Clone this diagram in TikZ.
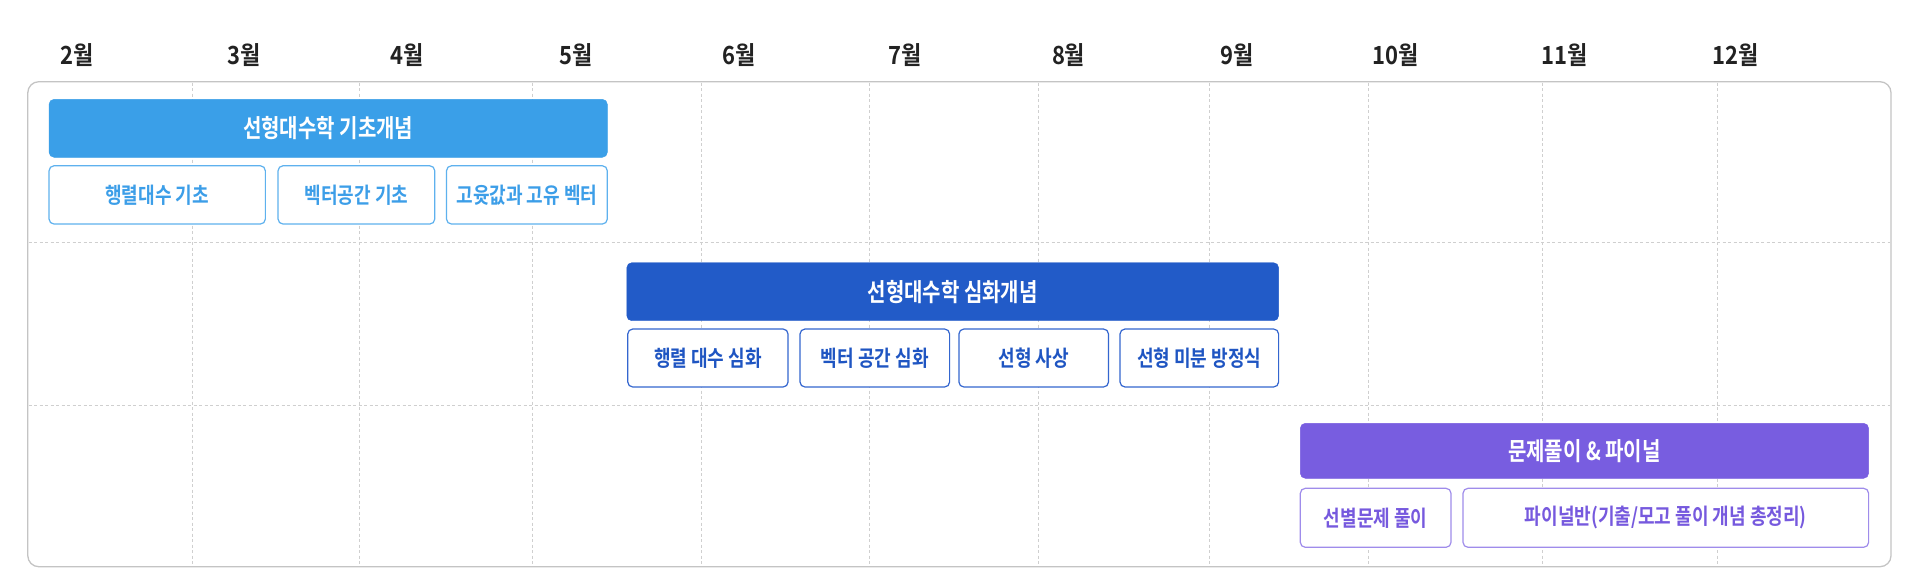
\documentclass[tikz,border=0pt]{standalone}
\usepackage{fontspec}
\setmainfont{Noto Sans CJK KR}
\newfontfamily\barfont{Noto Sans CJK KR Bold}[FakeStretch=0.80]
\newfontfamily\subfont{Noto Sans CJK KR Bold}[FakeStretch=0.82]
\newfontfamily\monthfont{Noto Sans CJK KR Bold}[FakeStretch=0.88]
\definecolor{monthc}{HTML}{222222}
\definecolor{gridc}{HTML}{CFCFCF}
\definecolor{framec}{HTML}{C4C4C4}
\definecolor{cA}{HTML}{3A9FE8}
\definecolor{cAb}{HTML}{5EB1EE}
\definecolor{cAt}{HTML}{3C9EE8}
\definecolor{cB}{HTML}{225BC8}
\definecolor{cBb}{HTML}{3466CF}
\definecolor{cBt}{HTML}{1F55C2}
\definecolor{cC}{HTML}{785DE0}
\definecolor{cCb}{HTML}{9F8CEB}
\definecolor{cCt}{HTML}{7659DE}
\begin{document}
\begin{tikzpicture}[x=1pt,y=-1pt,
  monthlbl/.style={font=\monthfont\fontsize{25}{28}\selectfont, text=monthc, inner sep=0pt},
  gridline/.style={draw=gridc, line width=1pt, dash pattern=on 3pt off 2.5pt},
  bar/.style={rounded corners=5pt, inner sep=0pt, text=white, font=\barfont\fontsize{25}{28}\selectfont},
  barA/.style={bar, fill=cA, draw=cA},
  barB/.style={bar, fill=cB, draw=cB},
  barC/.style={bar, fill=cC, draw=cC},
  sub/.style={rounded corners=5pt, inner sep=0pt, fill=white, line width=1.2pt, font=\subfont\fontsize{22}{26}\selectfont},
  subA/.style={sub, draw=cAb, text=cAt},
  subB/.style={sub, draw=cBb, text=cBt},
  subC/.style={sub, draw=cCb, text=cCt}]
\useasboundingbox (0,0) rectangle (1919,587);
% frame
\draw[draw=framec, line width=1.3pt, fill=white, rounded corners=11pt] (27.8,81.7) rectangle (1891,566.7);
% vertical grid
\foreach \gx in {192.2,359.6,532.2,701.2,869.4,1038.4,1209.4,1368.4,1542,1717.2}
  \draw[gridline] (\gx,82.5) -- (\gx,566);
% horizontal grid
\foreach \gy in {242.6,405}
  \draw[gridline] (28.5,\gy) -- (1890.3,\gy);
% months
\node[monthlbl] (m2) at (77.6,55) {2월};
\node[monthlbl] (m3) at (243.7,55) {3월};
\node[monthlbl] (m4) at (407,55) {4월};
\node[monthlbl] (m5) at (576,55) {5월};
\node[monthlbl] (m6) at (739,55) {6월};
\node[monthlbl] (m7) at (905,55) {7월};
\node[monthlbl] (m8) at (1068.6,55) {8월};
\node[monthlbl] (m9) at (1236.7,55) {9월};
\node[monthlbl] (m10) at (1396,55) {10월};
\node[monthlbl] (m11) at (1565,55) {11월};
\node[monthlbl] (m12) at (1736,55) {12월};
% row 1
\node[barA, minimum width=558.3pt, minimum height=58pt] (bA) at (328.2,128.3) {선형대수학 기초개념};
\node[subA, minimum width=216.3pt, minimum height=58.3pt] (sA1) at (157.2,194.9) {행렬대수 기초};
\node[subA, minimum width=156.7pt, minimum height=58.3pt] (sA2) at (356.4,194.9) {벡터공간 기초};
\node[subA, minimum width=160.8pt, minimum height=58.3pt] (sA3) at (526.9,194.9) {고윳값과 고유 벡터};
% row 2
\node[barB, minimum width=651.8pt, minimum height=58pt] (bB) at (952.7,291.7) {선형대수학 심화개념};
\node[subB, minimum width=160.3pt, minimum height=58pt] (sB1) at (707.9,358) {행렬 대수 심화};
\node[subB, minimum width=149.6pt, minimum height=58pt] (sB2) at (874.8,358) {벡터 공간 심화};
\node[subB, minimum width=149.6pt, minimum height=58pt] (sB3) at (1033.7,358) {선형 사상};
\node[subB, minimum width=158.6pt, minimum height=58pt] (sB4) at (1199.3,358) {선형 미분 방정식};
% row 3
\node[barC, minimum width=568.3pt, minimum height=55pt] (bC) at (1584.45,450.8) {문제풀이 \& 파이널};
\node[subC, minimum width=150.7pt, minimum height=59pt] (sC1) at (1375.65,517.8) {선별문제 풀이};
\node[subC, minimum width=405.6pt, minimum height=59pt] (sC2) at (1665.8,517.8) {파이널반(기출/모고 풀이 개념 총정리)};
\end{tikzpicture}
\end{document}
